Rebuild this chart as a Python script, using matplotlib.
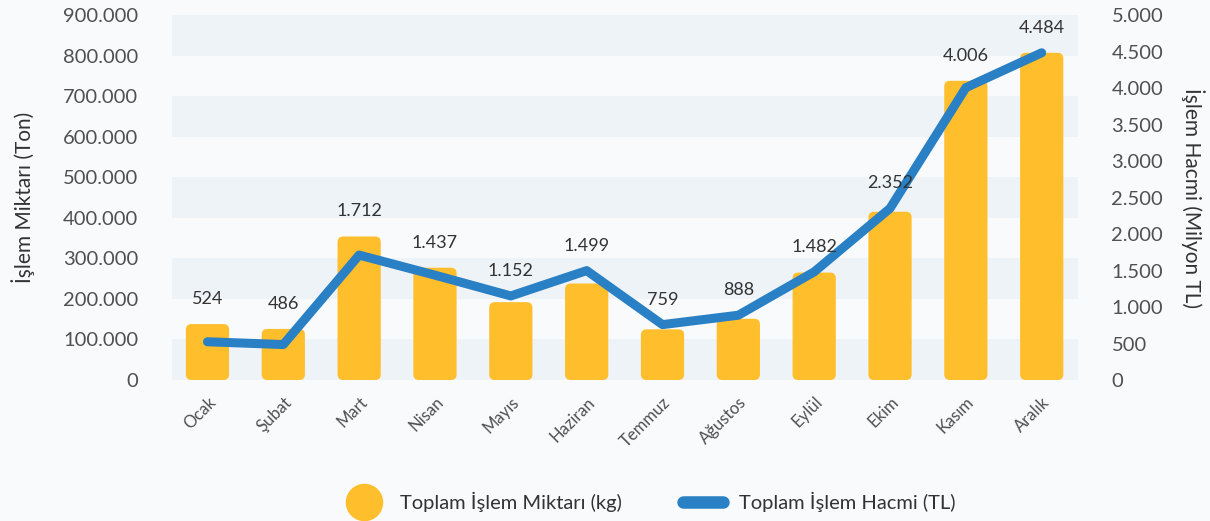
import matplotlib
matplotlib.use("Agg")
import matplotlib.pyplot as plt
from matplotlib.patches import FancyBboxPatch
from matplotlib.lines import Line2D
from matplotlib.ticker import FuncFormatter, MultipleLocator

plt.rcParams["font.family"] = ["Lato", "DejaVu Sans"]

# veriler
aylar = ["Ocak", "Şubat", "Mart", "Nisan", "Mayıs", "Haziran",
         "Temmuz", "Ağustos", "Eylül", "Ekim", "Kasım", "Aralık"]
miktar = [138000, 126000, 354000, 277000, 192000, 238000,
          125000, 151000, 265000, 415000, 738000, 807000]
hacim = [524, 486, 1712, 1437, 1152, 1499, 759, 888, 1482, 2352, 4006, 4484]

bg = "#F8FAFC"
band = "#EEF3F8"
sari = "#FFBE2B"
mavi = "#2A80C4"
yazi = "#505050"


def tr_fmt(v, pos=None):
    return f"{int(round(v)):,}".replace(",", ".")


fig = plt.figure(figsize=(12.1, 5.21), dpi=100, facecolor=bg)
ax = fig.add_axes([0.142, 0.2706, 0.749, 0.7004])
ax.set_facecolor(bg)
ax.set_xlim(-0.47, 11.48)
ax.set_ylim(0, 900000)

# arka plan bantlari
for lo in range(0, 900000, 200000):
    ax.axhspan(lo, lo + 100000, color=band, zorder=0, lw=0)

x = list(range(len(aylar)))
bars = ax.bar(x, miktar, width=0.57, color=sari, zorder=2)

# yuvarlak koseli cubuklar
bbox = ax.get_window_extent()
px_x = bbox.width / (ax.get_xlim()[1] - ax.get_xlim()[0])
px_y = bbox.height / (ax.get_ylim()[1] - ax.get_ylim()[0])
aspect = px_x / px_y
for b in bars:
    p = FancyBboxPatch((b.get_x(), b.get_y()), b.get_width(), b.get_height(),
                       boxstyle="round,pad=0,rounding_size=0.075",
                       mutation_aspect=aspect, fc=sari, ec="none", zorder=2)
    ax.add_patch(p)
    b.remove()

for s in ax.spines.values():
    s.set_visible(False)
ax.yaxis.set_major_locator(MultipleLocator(100000))
ax.yaxis.set_major_formatter(FuncFormatter(tr_fmt))
ax.tick_params(axis="y", length=0, pad=24, labelsize=14.5, labelcolor=yazi)
ax.tick_params(axis="x", length=0, pad=10, labelsize=12, labelcolor=yazi)
ax.set_xticks(x)
ax.set_xticklabels(aylar, rotation=45, ha="right", va="top", rotation_mode="anchor")
ax.set_ylabel("İşlem Miktarı (Ton)", fontsize=15, color="#333333", labelpad=20)

ax2 = ax.twinx()
ax2.set_ylim(0, 5000)
ax2.plot(x, hacim, color=mavi, lw=6.5, solid_capstyle="round",
         solid_joinstyle="round", zorder=3)
for s in ax2.spines.values():
    s.set_visible(False)
ax2.yaxis.set_major_locator(MultipleLocator(500))
ax2.yaxis.set_major_formatter(FuncFormatter(tr_fmt))
ax2.tick_params(axis="y", length=0, pad=24, labelsize=14.5, labelcolor=yazi)
ax2.set_ylabel("İşlem Hacmi (Milyon TL)", fontsize=15, color="#333333",
               rotation=-90, labelpad=30)

# deger etiketleri
for i, (m, h) in enumerate(zip(miktar, hacim)):
    top = max(m / 180.0, h)
    ax2.annotate(tr_fmt(h), (i, top), xytext=(0, 18), textcoords="offset points",
                 ha="center", va="center", fontsize=13, color="#333333")

handles = [
    Line2D([], [], marker="o", ls="none", ms=26, mfc=sari, mec=sari),
    Line2D([], [], color=mavi, lw=9, solid_capstyle="round"),
]
fig.legend(handles, ["Toplam İşlem Miktarı (kg)", "Toplam İşlem Hacmi (TL)"],
           loc="center", bbox_to_anchor=(0.537, 0.037), ncol=2, frameon=False,
           fontsize=14.5, handlelength=2.0, columnspacing=3.0, handletextpad=0.8,
           labelcolor="#333333")

fig.savefig("out.png", dpi=100, facecolor=bg)
